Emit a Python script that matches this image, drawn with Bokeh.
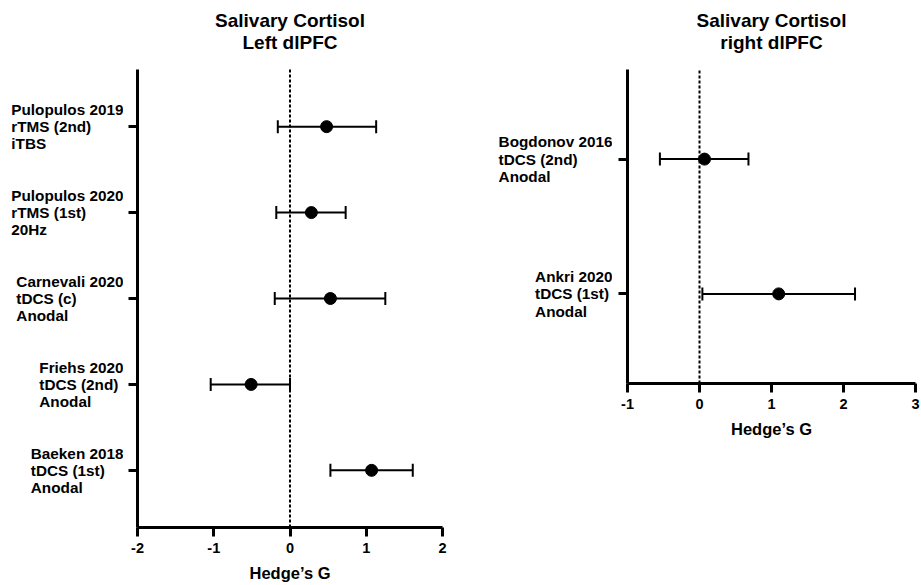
from bokeh.plotting import figure
from bokeh.layouts import row
from bokeh.models import (ColumnDataSource, Whisker, TeeHead, Label,
                          FixedTicker, Range1d, CustomJSTickFormatter)
from bokeh.embed import file_html
from bokeh.resources import INLINE

# ---------------- data ----------------
left_labels = ["Baeken 2018\ntDCS (1st)\nAnodal",
               "Friehs 2020\ntDCS (2nd)\nAnodal",
               "Carnevali 2020\ntDCS (c)\nAnodal",
               "Pulopulos 2020\nrTMS (1st)\n20Hz",
               "Pulopulos 2019\nrTMS (2nd)\niTBS"]
left_g = [1.07, -0.51, 0.53, 0.28, 0.48]
left_lower = [0.53, -1.04, -0.20, -0.18, -0.16]
left_upper = [1.61, 0.00, 1.25, 0.73, 1.13]
left_xticks = [-2, -1, 0, 1, 2]
left_xtick_labels = ["-2", "-1", "0", "1", "2"]

right_labels = ["Ankri 2020\ntDCS (1st)\nAnodal",
                "Bogdonov 2016\ntDCS (2nd)\nAnodal"]
right_g = [1.10, 0.07]
right_lower = [0.04, -0.55]
right_upper = [2.16, 0.68]
right_xticks = [-1, 0, 1, 2, 3]
right_xtick_labels = ["-1", "0", "1", "2", "3"]

titles = ["Salivary Cortisol\nLeft dlPFC", "Salivary Cortisol\nright dlPFC"]
xlabel = "Hedge\u2019s G"

FONT = "Liberation Sans"
TOP_SPACE = 69   # px between canvas top and top of the data area
BB = 58          # px below the frame for the x axis
PAD = 0.665


def forest(labels, g, lo, hi, xticks, xtick_labels, title, lab_width,
           width, height, bl, br):
    n = len(labels)
    pos = list(range(1, n + 1))
    src = ColumnDataSource(dict(y=pos, g=g, lo=lo, hi=hi))

    frame_h = height - BB
    ppu = (frame_h - TOP_SPACE) / (n - 1 + 2 * PAD)
    y_lo, y_hi = 1 - PAD, n + PAD
    yr = Range1d(y_lo, y_hi + TOP_SPACE / ppu)

    # narrow panel that carries the multi-line category labels
    lab_xr = Range1d(0, 1)
    lp = figure(width=lab_width, height=height, output_backend="svg",
                toolbar_location=None, x_range=lab_xr, y_range=yr,
                x_axis_location=None, y_axis_location=None,
                min_border_left=0, min_border_right=0,
                min_border_top=0, min_border_bottom=BB)
    lp.outline_line_color = None
    lp.grid.visible = False
    for yv, lab in zip(pos, labels):
        lp.add_layout(Label(x=lab_xr.end, y=yv, text=lab,
                            anchor="center_right", text_align="left",
                            text_baseline="middle",
                            text_font=FONT, text_font_style="bold",
                            text_font_size="15.3px", text_line_height=1.02,
                            text_color="black"))

    p = figure(width=width, height=height, output_backend="svg",
               toolbar_location=None,
               x_range=Range1d(xticks[0], xticks[-1]), y_range=yr,
               min_border_left=bl, min_border_right=br,
               min_border_top=0, min_border_bottom=BB)
    p.outline_line_color = None
    p.grid.visible = False

    p.add_layout(Label(x=(xticks[0] + xticks[-1]) / 2, y=yr.end, y_offset=-9,
                       text=title, text_align="center", text_baseline="top",
                       text_font=FONT, text_font_size="19px",
                       text_font_style="bold", text_line_height=1.08,
                       text_color="black"))

    for ax in (p.xaxis[0], p.yaxis[0]):
        ax.axis_line_width = 3
        ax.axis_line_color = "black"
        ax.major_tick_line_width = 3
        ax.major_tick_line_color = "black"
        ax.major_tick_in = 0
        ax.major_tick_out = 9
        ax.minor_tick_line_color = None
        ax.major_label_text_font = FONT
        ax.major_label_text_font_style = "bold"
        ax.major_label_text_color = "black"

    xa = p.xaxis[0]
    xa.ticker = FixedTicker(ticks=xticks)
    xa.major_label_overrides = {t: s for t, s in zip(xticks, xtick_labels)}
    xa.major_label_text_font_size = "14.5px"
    xa.major_label_standoff = 6
    xa.axis_label = xlabel
    xa.axis_label_text_font = FONT
    xa.axis_label_text_font_style = "bold"
    xa.axis_label_text_font_size = "16.5px"
    xa.axis_label_text_color = "black"
    xa.axis_label_standoff = 8

    ya = p.yaxis[0]
    ya.ticker = FixedTicker(ticks=pos)
    ya.formatter = CustomJSTickFormatter(code="return ''")
    ya.major_label_standoff = 0
    ya.bounds = (y_lo, y_hi)

    # dotted zero reference line over the data area
    p.segment(x0=[0], y0=[y_lo], x1=[0], y1=[y_hi], line_color="black",
              line_width=2, line_dash="3 2")

    w = Whisker(source=src, base="y", lower="lo", upper="hi",
                dimension="width", line_width=2, line_color="black",
                lower_head=TeeHead(size=13, line_width=2, line_color="black"),
                upper_head=TeeHead(size=13, line_width=2, line_color="black"))
    p.add_layout(w)
    p.scatter("g", "y", source=src, size=12, color="black")
    return lp, p


lab_l, left = forest(left_labels, left_g, left_lower, left_upper, left_xticks,
                     left_xtick_labels, titles[0], 123, 332, 585, 14, 13)
lab_r, right = forest(right_labels, right_g, right_lower, right_upper,
                      right_xticks, right_xtick_labels, titles[1], 157,
                      308, 441, 15, 5)

layout = row(lab_l, left, lab_r, right)
open("out.html", "w").write(file_html(layout, INLINE))
